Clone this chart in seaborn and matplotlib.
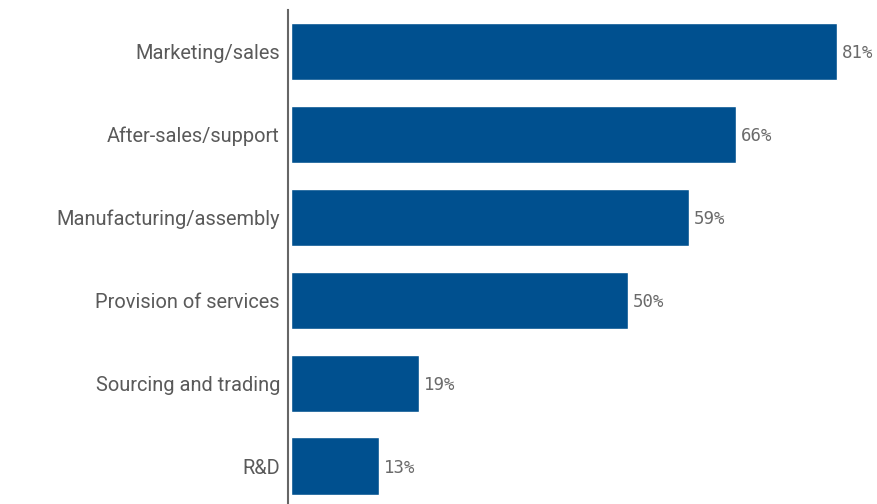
import matplotlib
matplotlib.use("Agg")
import matplotlib.pyplot as plt
import seaborn as sns
import pandas as pd

categories = ["Marketing/sales", "After-sales/support", "Manufacturing/assembly",
              "Provision of services", "Sourcing and trading", "R&D"]
values = [81, 66, 59, 50, 19, 13]
value_labels = ["81%", "66%", "59%", "50%", "19%", "13%"]

df = pd.DataFrame({"category": categories, "value": values})

sns.set_theme(style="white")
plt.rcParams["font.family"] = ["Roboto", "DejaVu Sans"]

fig = plt.figure(figsize=(8.78, 5.04), dpi=100)
ax = fig.add_axes([291 / 878, 0, 1 - 291 / 878, 494 / 504])

sns.barplot(data=df, x="value", y="category", orient="h", color="#00508F",
            saturation=1, width=0.69, ax=ax)

for i, (v, lab) in enumerate(zip(values, value_labels)):
    ax.text(v + 0.75, i + 0.02, lab, va="center", ha="left", fontsize=12.5,
            family="DejaVu Sans Mono", color="#6a6a6a")

ax.set_xlim(0, 87.1)
ax.set_ylim(5.458, -0.5)
ax.set_xlabel("")
ax.set_ylabel("")
ax.set_xticks([])
ax.tick_params(axis="y", length=0, pad=6, labelsize=14.4, labelcolor="#5a5a5a")
for s in ["top", "right", "bottom"]:
    ax.spines[s].set_visible(False)
ax.spines["left"].set_color("#666666")
ax.spines["left"].set_linewidth(1.5)
ax.spines["left"].set_position(("outward", 2))

fig.savefig("out.png", dpi=100)
